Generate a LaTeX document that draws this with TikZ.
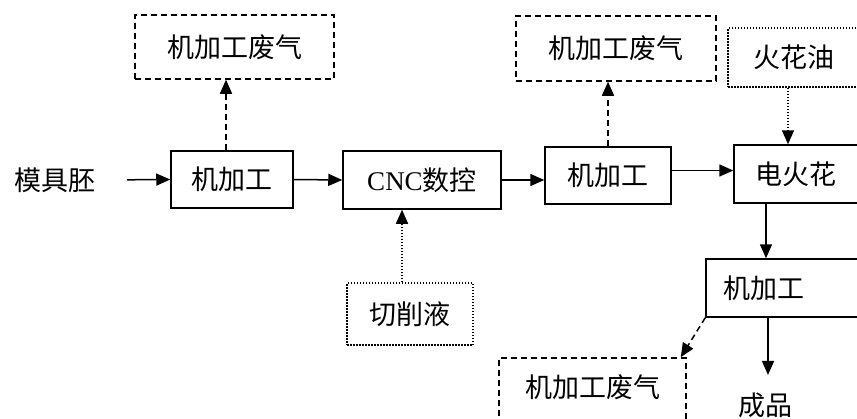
\documentclass[tikz,border=0pt]{standalone}
\usepackage{fontspec}
\newfontfamily\cjk{Noto Sans CJK SC}
\newfontfamily\latn{Liberation Serif}
\usetikzlibrary{arrows.meta,calc}
\begin{document}
\begin{tikzpicture}[x=1pt,y=-1pt,
  every node/.style={font=\cjk\fontsize{27}{30}\selectfont},
  solidbox/.style={draw,line width=1.5pt,inner sep=0pt,anchor=center},
  dashbox/.style={draw,line width=1.5pt,dash pattern=on 6pt off 4pt,inner sep=0pt},
  dotbox/.style={draw,line width=1.5pt,dash pattern=on 1.5pt off 1.5pt,inner sep=0pt},
  flow/.style={line width=1.5pt,-{Triangle[length=14pt,width=12pt]}},
  dflow/.style={flow,dash pattern=on 6pt off 4pt},
  oflow/.style={flow,dash pattern=on 1.5pt off 1.5pt}]
\useasboundingbox (0,0) rectangle (857,418);
\fill[white] (0,0) rectangle (857,418);
\clip (0,0) rectangle (857,418);
% nodes
\node (mjp) at (55,180) {模具胚};
\node[solidbox,minimum width=122pt,minimum height=57pt] (b1) at (232,179.5) {机加工};
\node[solidbox,minimum width=158pt,minimum height=58pt] (cnc) at (422,180) {{\latn CNC}数控};
\node[solidbox,minimum width=126pt,minimum height=57pt] (b3) at (608,175.5) {机加工};
\node[solidbox,minimum width=124pt,minimum height=58pt] (dhh) at (796,174) {电火花};
\node[dotbox,minimum width=132pt,minimum height=59pt] (hho) at (794,57.5) {火花油};
\node[dashbox,minimum width=199pt,minimum height=64pt] (w1) at (234.5,47) {机加工废气};
\node[dashbox,minimum width=200pt,minimum height=65pt] (w2) at (616,48.5) {机加工废气};
\node[dotbox,minimum width=126pt,minimum height=62pt] (qxy) at (410,314) {切削液};
\node[solidbox,minimum width=164pt,minimum height=58pt] (b4) at (788,288) {};
\node (b4t) at (764,288) {机加工};
\node[dashbox,minimum width=187pt,minimum height=64pt] (w3) at (592.5,390) {};
\node (w3t) at (592.5,387) {机加工废气};
\node (cp) at (765,405) {成品};
\coordinate (xa) at (766,0);
\coordinate (xb) at (768,0);
% connectors
\draw[flow,shorten <=28pt] (mjp.east) -- (b1.west);
\draw[flow] (b1.east) -- (cnc.west);
\draw[flow] (cnc.east) -- (cnc.east -| b3.west);
\draw[flow] ([yshift=5pt]b3.east) -- ([yshift=5pt]b3.east -| dhh.west);
\draw[dflow] ([xshift=-6pt]b1.north) -- ([xshift=-6pt]b1.north |- w1.south);
\draw[dflow] (b3.north) -- (b3.north |- w2.south);
\draw[oflow] ([xshift=-6pt]hho.south) -- ([xshift=-6pt]hho.south |- dhh.north);
\draw[oflow] ([xshift=-8pt]qxy.north) -- ([xshift=-8pt]qxy.north |- cnc.south);
\draw[flow] (xa |- dhh.south) -- (xa |- b4.north);
\draw[flow,shorten >=14pt] (xb |- b4.south) -- (xb |- cp.north);
\draw[dflow] (b4.south west) -- ([xshift=-6pt]w3.north east);
\end{tikzpicture}
\end{document}
